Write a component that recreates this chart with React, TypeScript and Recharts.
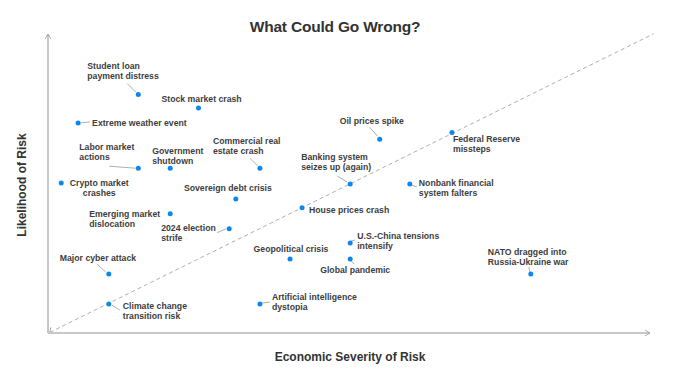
import React from 'react';
import { ScatterChart, Scatter, XAxis, YAxis, ReferenceLine } from 'recharts';

const risks: string[] = [
  'Student loan payment distress',
  'Stock market crash',
  'Extreme weather event',
  'Labor market actions',
  'Government shutdown',
  'Commercial real estate crash',
  'Crypto market crashes',
  'Sovereign debt crisis',
  'Emerging market dislocation',
  '2024 election strife',
  'House prices crash',
  'Banking system seizes up (again)',
  'Oil prices spike',
  'Federal Reserve missteps',
  'Nonbank financial system falters',
  'U.S.-China tensions intensify',
  'Geopolitical crisis',
  'Global pandemic',
  'NATO dragged into Russia-Ukraine war',
  'Major cyber attack',
  'Climate change transition risk',
  'Artificial intelligence dystopia',
];

// Economic severity (x) and likelihood (y), 0-100 scale
const severity: number[] = [15, 25, 5, 15, 20.3, 35.2, 2.2, 31.2, 20.3, 30.1, 42.2, 50.2, 55.1, 67.1, 60.1, 50.2, 40.2, 50.2, 80.2, 10.1, 10.1, 35.2];
const likelihood: number[] = [80, 75.5, 70.5, 55.3, 55.3, 55.3, 50.3, 45, 40, 35, 42, 50, 65, 67.3, 50, 30.2, 24.8, 24.8, 19.8, 19.8, 9.7, 9.7];

type Layout = {
  lines: string[];
  dx: number;
  dy: number;
  anchor?: 'start' | 'middle' | 'end';
  leader?: [number, number, number, number];
};

// label placement relative to each dot
const labelLayout: Layout[] = [
  { lines: ['Student loan', 'payment distress'], dx: -51, dy: -29, leader: [-11, -11, -2, -2] },
  { lines: ['Stock market crash'], dx: -37, dy: -9 },
  { lines: ['Extreme weather event'], dx: 14, dy: 0, leader: [3, 0, 12, -1] },
  { lines: ['Labor market', 'actions'], dx: -59, dy: -21, leader: [-29, -2, -3, 0] },
  { lines: ['Government', 'shutdown'], dx: -18, dy: -17 },
  { lines: ['Commercial real', 'estate crash'], dx: -47, dy: -27, leader: [-10, -10, -2, -2] },
  { lines: ['Crypto market', 'crashes'], dx: 38, dy: 0, anchor: 'middle' },
  { lines: ['Sovereign debt crisis'], dx: -8, dy: -11, anchor: 'middle' },
  { lines: ['Emerging market', 'dislocation'], dx: -81, dy: 0 },
  { lines: ['2024 election', 'strife'], dx: -68, dy: -1, leader: [-12, 4, -3, 0] },
  { lines: ['House prices crash'], dx: 7, dy: 2 },
  { lines: ['Banking system', 'seizes up (again)'], dx: -49, dy: -27, leader: [-13, -8, -3, -2] },
  { lines: ['Oil prices spike'], dx: -40, dy: -18, leader: [-10, -12, -2, -3] },
  { lines: ['Federal Reserve', 'missteps'], dx: 1, dy: 7 },
  { lines: ['Nonbank financial', 'system falters'], dx: 9, dy: -1, leader: [2, 1, 7, 3] },
  { lines: ['U.S.-China tensions', 'intensify'], dx: 7, dy: -7, leader: [1, -2, 5, -3] },
  { lines: ['Geopolitical crisis'], dx: 1, dy: -10, anchor: 'middle' },
  { lines: ['Global pandemic'], dx: -30, dy: 11, leader: [1, 2, 4, 5] },
  { lines: ['NATO dragged into', 'Russia-Ukraine war'], dx: -43, dy: -22, leader: [-2, -7, -1, -2] },
  { lines: ['Major cyber attack'], dx: -49, dy: -16, leader: [-12, -10, -3, -2] },
  { lines: ['Climate change', 'transition risk'], dx: 14, dy: 2, leader: [3, 1, 11, 6] },
  { lines: ['Artificial intelligence', 'dystopia'], dx: 12, dy: -7, leader: [2, -1, 10, -2] },
];

const data = risks.map((name, i) => ({ name, x: severity[i], y: likelihood[i], idx: i }));

const FONT = "'Liberation Sans', Arial, Helvetica, sans-serif";
const TEXT = '#3d3d3d';

const RiskDot = (props: any) => {
  const { cx, cy, payload } = props;
  const L = labelLayout[payload.idx];
  return (
    <g>
      {L.leader && (
        <line
          x1={cx + L.leader[0]}
          y1={cy + L.leader[1]}
          x2={cx + L.leader[2]}
          y2={cy + L.leader[3]}
          stroke="#9a9a9a"
          strokeWidth={0.8}
        />
      )}
      <circle cx={cx} cy={cy} r={2.5} fill="#0d87f0" />
      {L.lines.map((t, i) => (
        <text
          key={i}
          x={cx + L.dx}
          y={cy + L.dy + i * 10 + 3}
          textAnchor={L.anchor || 'start'}
          fontSize={8.7}
          fontWeight={700}
          fontFamily={FONT}
          fill={TEXT}
        >
          {t}
        </text>
      ))}
    </g>
  );
};

const XAxisLine = (p: any) => {
  const { x1, y1, x2, y2 } = p;
  return (
    <g>
      <line x1={x1} y1={y1} x2={x2} y2={y2} stroke="#c8c8c8" strokeWidth={2} />
      <polyline points={`${x2 - 5},${y2 - 3} ${x2},${y2} ${x2 - 5},${y2 + 3}`} fill="none" stroke="#9a9a9a" strokeWidth={0.8} />
    </g>
  );
};

const YAxisLine = (p: any) => {
  const { x1, y1, x2, y2 } = p;
  return (
    <g>
      <line x1={x1} y1={y1} x2={x2} y2={y2} stroke="#c8c8c8" strokeWidth={2} />
      <polyline points={`${x2 - 3},${y2 + 5} ${x2},${y2} ${x2 + 3},${y2 + 5}`} fill="none" stroke="#9a9a9a" strokeWidth={0.8} />
    </g>
  );
};

const DiagLine = (p: any) => {
  const { x1, y1, x2, y2 } = p;
  return (
    <g>
      <line x1={x1} y1={y1} x2={x2} y2={y2} stroke="#b0b0b0" strokeWidth={1} strokeDasharray="4 3" />
      <polyline points={`${x1 + 1},${y1 - 5} ${x1},${y1} ${x1 + 5},${y1 + 1}`} fill="none" stroke="#8a8a8a" strokeWidth={0.8} />
    </g>
  );
};

export default function App() {
  return (
    <div style={{ position: 'fixed', left: 0, top: 0, width: 685, height: 372, background: '#fff', fontFamily: FONT }}>
      <ScatterChart width={685} height={372} margin={{ top: 35, right: 35, bottom: 39, left: 48 }}>
        <XAxis type="number" dataKey="x" domain={[0, 100]} hide />
        <YAxis type="number" dataKey="y" domain={[0, 100]} hide />
        <ReferenceLine segment={[{ x: 0.3, y: 0.2 }, { x: 100.6, y: 100.4 }]} ifOverflow="visible" shape={DiagLine} />
        <ReferenceLine segment={[{ x: 0, y: 0 }, { x: 100, y: 0 }]} ifOverflow="visible" shape={XAxisLine} />
        <ReferenceLine segment={[{ x: 0, y: 0 }, { x: 0, y: 100.3 }]} ifOverflow="visible" shape={YAxisLine} />
        <Scatter data={data} isAnimationActive={false} shape={RiskDot} />
      </ScatterChart>
      <div style={{ position: 'absolute', left: 0, width: 670, top: 17, textAlign: 'center', fontSize: 15.5, fontWeight: 700, color: '#333', lineHeight: '20px', letterSpacing: -0.2 }}>
        What Could Go Wrong?
      </div>
      <div style={{ position: 'absolute', left: 200, width: 300, top: 349, textAlign: 'center', fontSize: 12, fontWeight: 700, color: '#333', lineHeight: '16px' }}>
        Economic Severity of Risk
      </div>
      <div style={{ position: 'absolute', left: 22 - 80, width: 160, top: 185 - 8, textAlign: 'center', fontSize: 12, fontWeight: 700, color: '#333', lineHeight: '16px', transform: 'rotate(-90deg)' }}>
        Likelihood of Risk
      </div>
    </div>
  );
}
